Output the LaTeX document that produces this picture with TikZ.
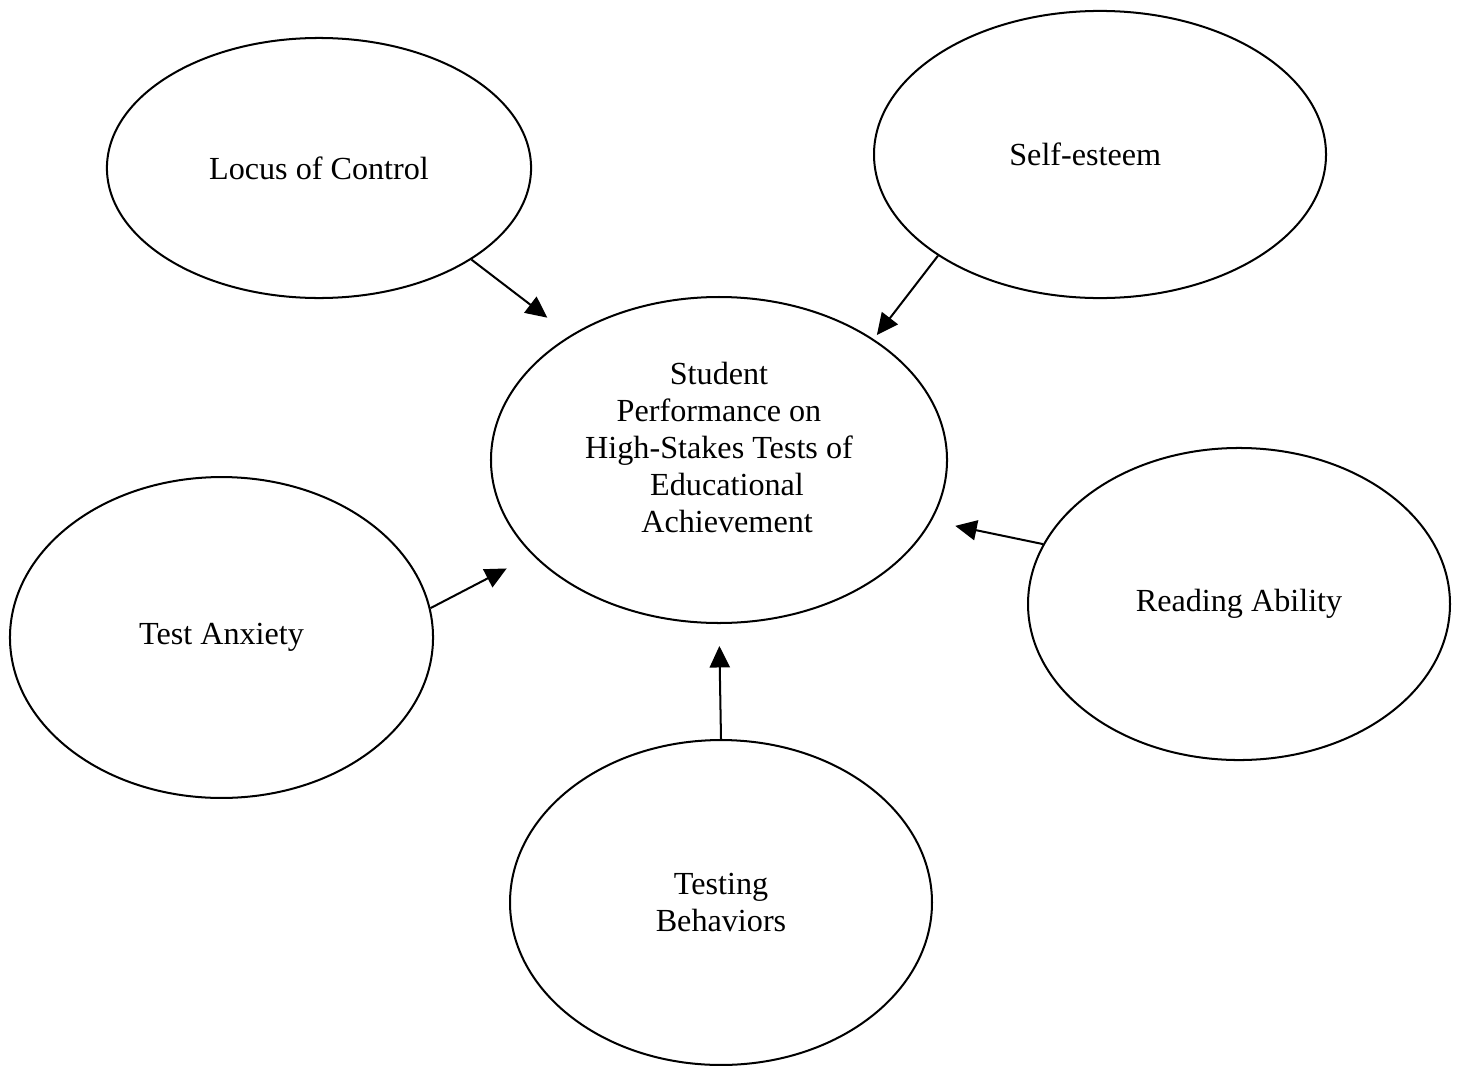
\documentclass[tikz,border=0pt]{standalone}
\usepackage{fontspec}
\setmainfont{Liberation Serif}
\usetikzlibrary{arrows.meta,shapes.geometric}

\begin{document}
\begin{tikzpicture}[x=0.373pt, y=-0.373pt,
  oval/.style={draw, ellipse, line width=0.75pt, inner sep=0pt, align=center,
    font=\fontsize{12}{13.8}\selectfont},
  link/.style={-{Triangle[length=8pt, width=7.5pt]}, line width=0.75pt}]

\useasboundingbox (0,0) rectangle (1463,1070);

% Ovali
\node[oval, minimum width=170.1pt, minimum height=121.6pt] (stu) at (719,460) {};
\node[align=center, font=\fontsize{12}{13.8}\selectfont] (stutxt) at (719,447)
  {Student\\Performance on\\High-Stakes Tests of\\\hspace*{6pt}Educational\\\hspace*{6pt}Achievement};
\node[oval, minimum width=158.2pt, minimum height=97pt] (loc) at (319,168) {Locus of Control};
\node[oval, minimum width=168.6pt, minimum height=107.1pt] (self) at (1100,154.5) {Self-esteem\hspace*{11pt}};
\node[oval, minimum width=157.8pt, minimum height=119.7pt] (anx) at (221.5,637.5) {Test Anxiety};
\node[oval, minimum width=157.4pt, minimum height=116.4pt] (read) at (1239,604) {Reading Ability};
\node[oval, minimum width=157.4pt, minimum height=121.2pt] (beh) at (721,902.5) {Testing\\Behaviors};

% Frecce verso il centro
\draw[link, shorten >=10.8pt] (loc.-31.5) -- (stu.140.3);
\draw[link, shorten >=1.9pt] (self.212.1) -- (stu.38.5);
\draw[link, shorten >=9pt] (read.163.7) -- (stu.-16.7);
\draw[link, shorten >=10.8pt] (anx.8.7) -- (stu.207.1);
\draw[link, shorten >=8.2pt] (beh.90) -- (stu.-90);

\end{tikzpicture}
\end{document}
